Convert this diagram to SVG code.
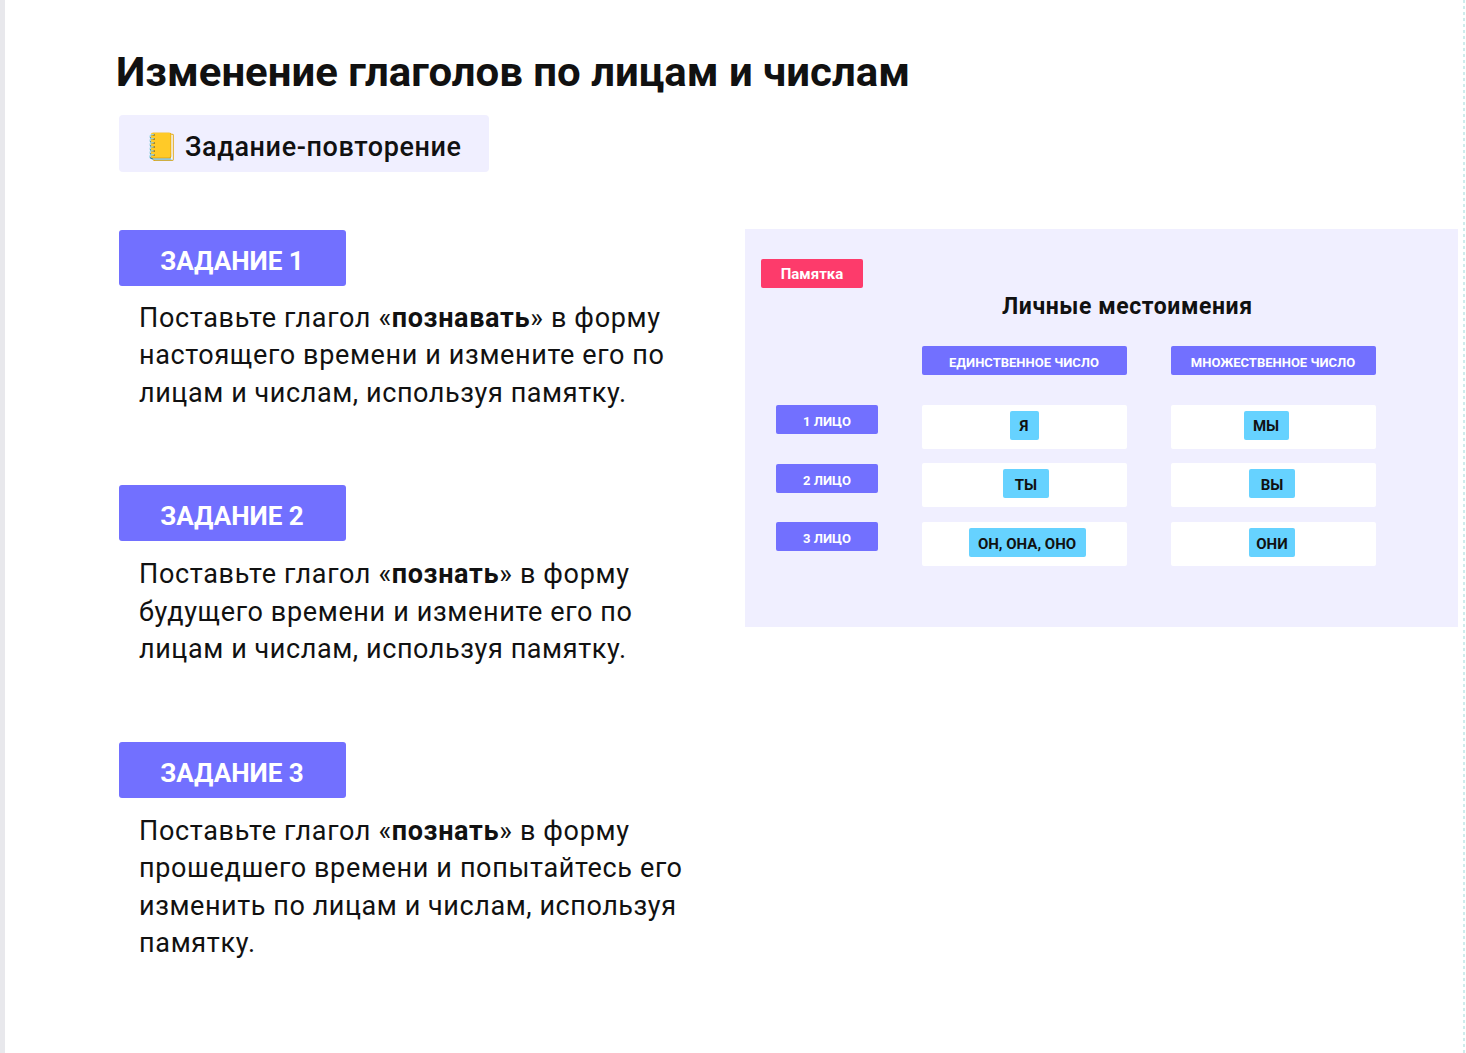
<svg xmlns="http://www.w3.org/2000/svg" width="1466" height="1053" viewBox="0 0 1466 1053">
<style>
text{font-family:Roboto,"Liberation Sans",sans-serif}
.tag{fill:#7270ff}
.tagt{fill:#fff;font-weight:700;font-size:26px;text-anchor:middle}
.body{fill:#111;font-size:27px}
.hdr{fill:#7270ff}
.hdrt{fill:#fff;font-weight:700;font-size:13px;text-anchor:middle}
.cell{fill:#fff}
.pill{fill:#66d2ff}
.pillt{fill:#111;font-weight:700;font-size:15px;text-anchor:middle}
</style>
<rect width="1466" height="1053" fill="#fff"/>
<rect x="0" y="0" width="5" height="1053" fill="#e8e8ec"/>
<line x1="1464" y1="0" x2="1464" y2="1053" stroke="#9fd9d9" stroke-width="1" stroke-dasharray="3,3"/>
<text x="116" y="86" font-size="41" font-weight="700" fill="#111" textLength="794" lengthAdjust="spacingAndGlyphs">Изменение глаголов по лицам и числам</text>
<g id="subtitle">
<rect x="119" y="115" width="370" height="57" rx="4" fill="#f0efff"/>
<text x="145" y="156" font-size="27" font-weight="500" fill="#111">📒</text>
<text x="185" y="156" font-size="27" font-weight="500" fill="#111" textLength="276">Задание-повторение</text>
</g>
<g id="task1">
<rect class="tag" x="119" y="230" width="227" height="56" rx="3"/>
<text class="tagt" x="232" y="270">ЗАДАНИЕ 1</text>
<text class="body" x="139" y="327" textLength="521">Поставьте глагол «<tspan font-weight="700">познавать</tspan>» в форму</text>
<text class="body" x="139" y="364" textLength="525">настоящего времени и измените его по</text>
<text class="body" x="139" y="402" textLength="487">лицам и числам, используя памятку.</text>
</g>
<g id="task2">
<rect class="tag" x="119" y="485" width="227" height="56" rx="3"/>
<text class="tagt" x="232" y="525">ЗАДАНИЕ 2</text>
<text class="body" x="139" y="583" textLength="490">Поставьте глагол «<tspan font-weight="700">познать</tspan>» в форму</text>
<text class="body" x="139" y="621" textLength="493">будущего времени и измените его по</text>
<text class="body" x="139" y="658" textLength="487">лицам и числам, используя памятку.</text>
</g>
<g id="task3">
<rect class="tag" x="119" y="742" width="227" height="56" rx="3"/>
<text class="tagt" x="232" y="782">ЗАДАНИЕ 3</text>
<text class="body" x="139" y="840" textLength="490">Поставьте глагол «<tspan font-weight="700">познать</tspan>» в форму</text>
<text class="body" x="139" y="877" textLength="543">прошедшего времени и попытайтесь его</text>
<text class="body" x="139" y="915" textLength="537">изменить по лицам и числам, используя</text>
<text class="body" x="139" y="952" textLength="116">памятку.</text>
</g>
<g id="memo">
<rect x="745" y="229" width="713" height="398" fill="#f0efff"/>
<rect x="761" y="259" width="102" height="29" rx="2" fill="#fd3b6b"/>
<text x="812" y="279" font-size="15" font-weight="700" fill="#fff" text-anchor="middle">Памятка</text>
<text x="1127" y="314" font-size="23" font-weight="700" fill="#111" text-anchor="middle" textLength="250">Личные местоимения</text>
<rect class="hdr" x="922" y="346" width="205" height="29" rx="2"/>
<text class="hdrt" x="1024" y="367">ЕДИНСТВЕННОЕ ЧИСЛО</text>
<rect class="hdr" x="1171" y="346" width="205" height="29" rx="2"/>
<text class="hdrt" x="1273" y="367">МНОЖЕСТВЕННОЕ ЧИСЛО</text>
<rect class="hdr" x="776" y="405" width="102" height="29" rx="2"/>
<text class="hdrt" x="827" y="426">1 ЛИЦО</text>
<rect class="hdr" x="776" y="464" width="102" height="29" rx="2"/>
<text class="hdrt" x="827" y="485">2 ЛИЦО</text>
<rect class="hdr" x="776" y="522" width="102" height="29" rx="2"/>
<text class="hdrt" x="827" y="543">3 ЛИЦО</text>
<rect class="cell" x="922" y="405" width="205" height="44" rx="2"/>
<rect class="cell" x="1171" y="405" width="205" height="44" rx="2"/>
<rect class="cell" x="922" y="463" width="205" height="44" rx="2"/>
<rect class="cell" x="1171" y="463" width="205" height="44" rx="2"/>
<rect class="cell" x="922" y="522" width="205" height="44" rx="2"/>
<rect class="cell" x="1171" y="522" width="205" height="44" rx="2"/>
<rect class="pill" x="1010" y="411" width="29" height="29" rx="2"/>
<text class="pillt" x="1024" y="431">Я</text>
<rect class="pill" x="1003" y="469" width="46" height="29" rx="2"/>
<text class="pillt" x="1026" y="490">ТЫ</text>
<rect class="pill" x="969" y="528" width="117" height="29" rx="2"/>
<text class="pillt" x="1027" y="549">ОН, ОНА, ОНО</text>
<rect class="pill" x="1244" y="411" width="45" height="29" rx="2"/>
<text class="pillt" x="1266" y="431">МЫ</text>
<rect class="pill" x="1249" y="469" width="46" height="29" rx="2"/>
<text class="pillt" x="1272" y="490">ВЫ</text>
<rect class="pill" x="1249" y="528" width="46" height="29" rx="2"/>
<text class="pillt" x="1272" y="549">ОНИ</text>
</g>
</svg>
